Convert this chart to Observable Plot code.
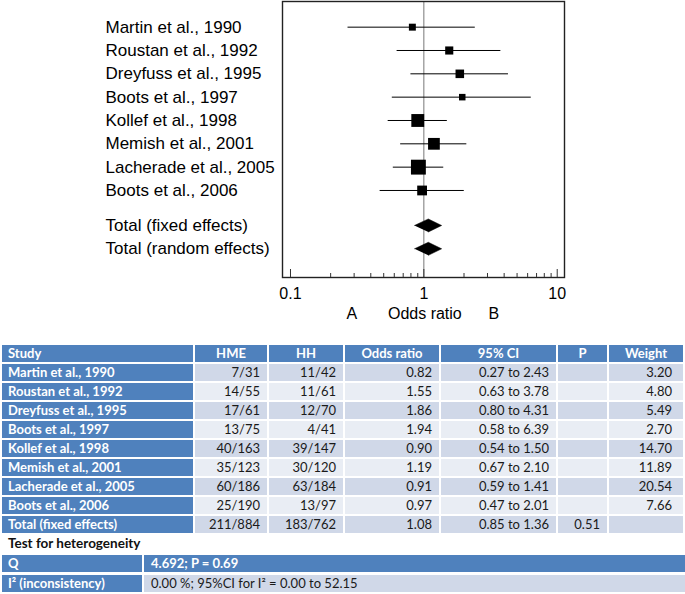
<!DOCTYPE html>
<html>
<head>
<meta charset="utf-8">
<script src="https://cdn.jsdelivr.net/npm/d3@7"></script>
<script src="https://cdn.jsdelivr.net/npm/@observablehq/plot@0.6"></script>
<style>
  body { margin: 0; background: #fff; width: 685px; }
  #chart svg { display: block; }
  table { border-collapse: separate; border-spacing: 2px; table-layout: fixed; width: 685px;
          font-family: Lato, Carlito, "Open Sans", sans-serif; font-size: 13px; margin: 0; color: #1a1a1a; }
  td, th { height: 17px; padding: 0 7px; line-height: 17px; box-sizing: border-box; white-space: nowrap; overflow: hidden; }
  th { background: #4F81BD; color: #fff; font-weight: bold; text-align: center; }
  th.first, td.first { text-align: left; padding-left: 6px; }
  td.first { background: #4F81BD; color: #fff; font-weight: bold; }
  tr.odd td { background: #D0D8E8; }
  tr.even td { background: #E9EDF4; }
  tr.odd td.first, tr.even td.first { background: #4F81BD; }
  td.num { text-align: right; }
  td.w { padding-right: 11px; }
  #t1 { margin-top: 8px; }
  .het { height: 17px; line-height: 17px; padding-left: 8px; font-family: Lato, Carlito, sans-serif;
         font-weight: bold; font-size: 13.5px; color: #111; }
  #t2 { border-spacing: 2px 3px; }
  #t2 tr.q td { background: #4F81BD; color: #fff; font-weight: bold; }
  #t2 tr.i2 td { background: #D0D8E8; }
  #t2 tr.i2 td.first { background: #4F81BD; }
</style>
</head>
<body>
<div id="chart"></div>
<table id="t1"></table>
<div class="het">Test for heterogeneity</div>
<table id="t2"></table>
<script>
// ---- data ----
const studies = ["Martin et al., 1990", "Roustan et al., 1992", "Dreyfuss et al., 1995", "Boots et al., 1997",
  "Kollef et al., 1998", "Memish et al., 2001", "Lacherade et al., 2005", "Boots et al., 2006"];
const hme = ["7/31", "14/55", "17/61", "13/75", "40/163", "35/123", "60/186", "25/190"];
const hh = ["11/42", "11/61", "12/70", "4/41", "39/147", "30/120", "63/184", "13/97"];
const oddsRatio = [0.82, 1.55, 1.86, 1.94, 0.90, 1.19, 0.91, 0.97];
const ciLow = [0.27, 0.63, 0.80, 0.58, 0.54, 0.67, 0.59, 0.47];
const ciHigh = [2.43, 3.78, 4.31, 6.39, 1.50, 2.10, 1.41, 2.01];
const weight = [3.20, 4.80, 5.49, 2.70, 14.70, 11.89, 20.54, 7.66];

const totalLabels = ["Total (fixed effects)", "Total (random effects)"];
const totalOR = [1.08, 1.08];
const totalLow = [0.85, 0.85];
const totalHigh = [1.36, 1.36];
const totalHME = "211/884";
const totalHH = "183/762";
const totalP = "0.51";

const headers = ["Study", "HME", "HH", "Odds ratio", "95% CI", "P", "Weight"];
const hetLabels = ["Q", "I\u00B2 (inconsistency)"];
const hetValues = ["4.692; P = 0.69", "0.00 %; 95%CI for I\u00B2 = 0.00 to 52.15"];

const majorTicks = [0.1, 1, 10];
const minorTicks = [0.2, 0.3, 0.4, 0.5, 0.6, 0.7, 0.8, 0.9, 2, 3, 4, 5, 6, 7, 8, 9];
const axisNotes = ["A", "Odds ratio", "B"];

// ---- forest plot ----
const studyRows = studies.map((name, i) => ({name, row: i, or: oddsRatio[i], lo: ciLow[i], hi: ciHigh[i], w: weight[i]}));
const totalRows = totalLabels.map((name, j) => ({name, row: studies.length + 0.5 + j, or: totalOR[j], lo: totalLow[j], hi: totalHigh[j]}));
const half = 0.28;
const diamondPts = totalRows.flatMap(t => [
  {k: t.name, x: t.lo, y: t.row}, {k: t.name, x: t.or, y: t.row - half},
  {k: t.name, x: t.hi, y: t.row}, {k: t.name, x: t.or, y: t.row + half}
]);
const labels = [...studyRows, ...totalRows];
const plotH = 276;

const chart = Plot.plot({
  width: 685, height: 335,
  marginLeft: 282, marginRight: 121, marginTop: 1, marginBottom: 58,
  style: {fontFamily: "'Liberation Sans', Arial, sans-serif", fontSize: "16px", background: "white", color: "black"},
  x: {type: "log", domain: [0.0871, 11.34]},
  y: {domain: [10.73, -1.1], axis: null},
  r: {type: "sqrt", domain: [0, 20.54], range: [1.0, 8.4]},
  marks: [
    Plot.ruleX([1], {stroke: "#777", strokeWidth: 1}),
    Plot.ruleY(studyRows, {y: "row", x1: "lo", x2: "hi", stroke: "black", strokeWidth: 1}),
    Plot.dot(studyRows, {x: "or", y: "row", r: "w", symbol: "square", fill: "black", stroke: null}),
    Plot.line(diamondPts, {x: "x", y: "y", z: "k", fill: "black", stroke: "black", strokeWidth: 0.5}),
    Plot.text(labels, {y: "row", text: "name", frameAnchor: "left", textAnchor: "start", dx: -177, fontSize: 17, fill: "black"}),
    Plot.frame({stroke: "#222", strokeWidth: 1.4}),
    Plot.ruleX(majorTicks, {x: d => d, insetTop: plotH - 8, stroke: "#333"}),
    Plot.ruleX(minorTicks, {x: d => d, insetTop: plotH - 4, stroke: "#333"}),
    Plot.axisX({ticks: majorTicks, tickSize: 0, tickPadding: 10, tickFormat: d => String(d), label: null, fontSize: 16}),
    Plot.text([1], {x: d => d, text: () => axisNotes[0], frameAnchor: "bottom", dx: -72, dy: 41, fontSize: 16}),
    Plot.text([1], {x: d => d, text: () => axisNotes[1], frameAnchor: "bottom", dx: 1, dy: 41, fontSize: 16}),
    Plot.text([1], {x: d => d, text: () => axisNotes[2], frameAnchor: "bottom", dx: 70, dy: 41, fontSize: 16})
  ]
});
document.getElementById("chart").append(chart);

// ---- tables ----
const colW = [191, 72, 74, 94, 115, 49, 74];
const t1 = document.getElementById("t1");
let html = "<colgroup>" + colW.map(w => `<col style="width:${w}px">`).join("") + "</colgroup>";
html += "<tr>" + headers.map((h, i) => `<th class="${i === 0 ? "first" : ""}">${h}</th>`).join("") + "</tr>";
const rowHtml = (k, cells) => `<tr class="${k % 2 === 0 ? "odd" : "even"}">` +
  `<td class="first">${cells[0]}</td>` +
  cells.slice(1).map((c, i) => `<td class="num${i === 5 ? " w" : ""}">${c}</td>`).join("") + "</tr>";
studies.forEach((s, i) => {
  html += rowHtml(i, [s, hme[i], hh[i], oddsRatio[i].toFixed(2), `${ciLow[i].toFixed(2)} to ${ciHigh[i].toFixed(2)}`, "", weight[i].toFixed(2)]);
});
html += rowHtml(studies.length, [totalLabels[0], totalHME, totalHH, totalOR[0].toFixed(2), `${totalLow[0].toFixed(2)} to ${totalHigh[0].toFixed(2)}`, totalP, ""]);
t1.innerHTML = html;

const t2 = document.getElementById("t2");
t2.innerHTML = `<colgroup><col style="width:140px"><col style="width:541px"></colgroup>` +
  `<tr class="q"><td class="first">${hetLabels[0]}</td><td>${hetValues[0]}</td></tr>` +
  `<tr class="i2"><td class="first">${hetLabels[1]}</td><td>${hetValues[1]}</td></tr>`;
</script>
</body>
</html>
